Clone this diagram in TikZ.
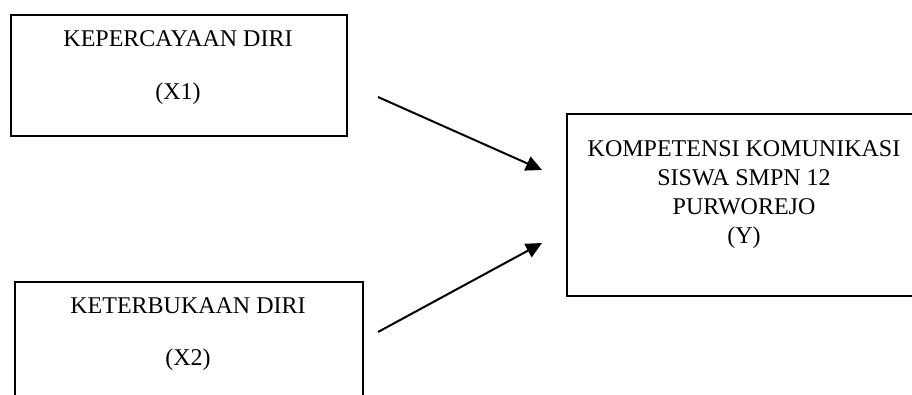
\documentclass[tikz,border=0pt]{standalone}
\usepackage{fontspec}
\setmainfont{Liberation Serif}
\usetikzlibrary{arrows.meta}
\tikzset{
  box/.style={draw=black, line width=2pt, rectangle, inner sep=0pt, anchor=north west},
  lbl/.style={anchor=base, inner sep=0pt, font=\fontsize{24}{28}\selectfont},
  conn/.style={line width=2pt, -{Triangle[length=16pt,width=15pt]}}
}
\begin{document}
\begin{tikzpicture}[x=1pt,y=-1pt]
\useasboundingbox (0,0) rectangle (912,394);
\clip (0,0) rectangle (912,394);
% boxes
\node[box, minimum width=336pt, minimum height=121pt] (b1) at (10,14) {};
\node[box, minimum width=348pt, minimum height=140pt] (b2) at (14,281) {};
\node[box, minimum width=358pt, minimum height=182pt] (b3) at (565.5,113) {};
% labels
\node[lbl] (t1a) at (178,46.5) {KEPERCAYAAN DIRI};
\node[lbl] (t1b) at (178,99) {(X1)};
\node[lbl] (t2a) at (188,313) {KETERBUKAAN DIRI};
\node[lbl] (t2b) at (188,365) {(X2)};
\node[lbl] (t3a) at (744,156) {KOMPETENSI KOMUNIKASI};
\node[lbl] (t3b) at (744,185) {SISWA SMPN 12};
\node[lbl] (t3c) at (744,214) {PURWOREJO};
\node[lbl] (t3d) at (744,243) {(Y)};
% connectors
\coordinate (a1s) at (378,97);
\coordinate (a1e) at (542,170);
\coordinate (a2s) at (378,332);
\coordinate (a2e) at (542,243);
\draw[conn] (a1s) -- (a1e);
\draw[conn] (a2s) -- (a2e);
\end{tikzpicture}
\end{document}
